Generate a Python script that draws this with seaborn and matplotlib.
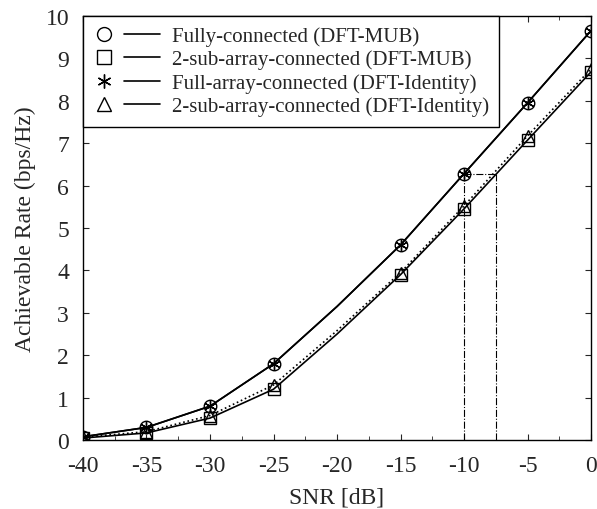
import pandas as pd
import seaborn as sns
import matplotlib.pyplot as plt
from matplotlib.lines import Line2D
from matplotlib.legend_handler import HandlerBase
from matplotlib.ticker import MultipleLocator

snr = [-40, -35, -30, -25, -20, -15, -10, -5, 0]
fully_mub = [0.08, 0.30, 0.80, 1.80, 3.15, 4.60, 6.28, 7.95, 9.65]
sub_mub = [0.05, 0.17, 0.52, 1.20, 2.50, 3.90, 5.45, 7.07, 8.68]
full_identity = [0.08, 0.30, 0.80, 1.80, 3.15, 4.60, 6.28, 7.95, 9.65]
sub_identity = [0.07, 0.20, 0.58, 1.30, 2.58, 3.95, 5.52, 7.17, 8.75]
labels = ['Fully-connected (DFT-MUB)', '2-sub-array-connected (DFT-MUB)',
          'Full-array-connected (DFT-Identity)', '2-sub-array-connected (DFT-Identity)']
gap_snr = [-10, -7.5]
gap_rate = 6.28

df = pd.DataFrame({'snr': snr * 4,
                   'rate': fully_mub + sub_mub + full_identity + sub_identity,
                   'scheme': sum([[l] * len(snr) for l in labels], [])})


class MarkerThenLine(HandlerBase):
    # legend entry: marker on the left, short solid line to its right
    def create_artists(self, legend, orig, xdescent, ydescent, width, height, fontsize, trans):
        y = height / 2 - ydescent
        x0 = -xdescent
        m = Line2D([x0 + 0.164 * width], [y], ls='none', marker=orig.get_marker(),
                   markersize=10, markerfacecolor='none', markeredgecolor='black',
                   markeredgewidth=1.0, transform=trans)
        ln = Line2D([x0 + 0.463 * width, x0 + width], [y, y], color='black', lw=1.2,
                    transform=trans)
        return [m, ln]


sns.set_style('ticks')
plt.rcParams['font.family'] = 'serif'
plt.rcParams['font.serif'] = ['Liberation Serif', 'DejaVu Serif']
plt.rcParams['axes.unicode_minus'] = False

fig = plt.figure(figsize=(5.97, 5.10), dpi=100)
ax = fig.add_axes([0.139, 0.135, 0.851, 0.832])

# dash-dot guide lines for the SNR gap
ax.plot([gap_snr[0], gap_snr[0]], [0, gap_rate], color='black', lw=0.8, ls='-.', zorder=1)
ax.plot([gap_snr[1], gap_snr[1]], [0, gap_rate], color='black', lw=0.8, ls='-.', zorder=1)
ax.plot(gap_snr, [gap_rate, gap_rate], color='black', lw=0.8, ls='-.', zorder=1)

markers = ['o', 's', (6, 2, 0), '^']
styles = ['-', '-', '-', ':']
marks = [0, 1, 2, 3, 5, 6, 7, 8]
handles = []
for lab, mk, ls in zip(labels, markers, styles):
    sub = df[df.scheme == lab]
    sns.lineplot(x='snr', y='rate', data=sub, ax=ax, color='black', lw=1.2,
                 linestyle=ls, marker=mk, markersize=9, markerfacecolor='none',
                 markeredgecolor='black', markeredgewidth=1.0,
                 markevery=marks, legend=False)
    handles.append(Line2D([], [], marker=mk, color='black'))

ax.legend(handles, labels, handler_map={Line2D: MarkerThenLine()},
          loc='upper left', borderaxespad=0, fancybox=False, framealpha=1,
          edgecolor='black', fontsize=15, handlelength=3.2, handletextpad=0.55,
          labelspacing=0.18, borderpad=0.5)
ax.get_legend().get_frame().set_linewidth(1.0)

ax.set_xlim(-40, 0)
ax.set_ylim(0, 10)
ax.set_xticks(range(-40, 1, 5))
ax.set_yticks(range(0, 11))
ax.xaxis.set_minor_locator(MultipleLocator(2.5))
ax.tick_params(which='both', direction='in', top=True, right=True, labelsize=17)
ax.tick_params(axis='x', pad=11)
ax.tick_params(axis='y', pad=10)
ax.tick_params(which='major', length=4)
ax.tick_params(which='minor', length=3)
ax.set_xlabel('SNR [dB]', fontsize=17, labelpad=7)
ax.set_ylabel('Achievable Rate (bps/Hz)', fontsize=17, labelpad=7)
for s in ax.spines.values():
    s.set_linewidth(1.0)
    s.set_color('black')

fig.savefig('out.png', dpi=100)
